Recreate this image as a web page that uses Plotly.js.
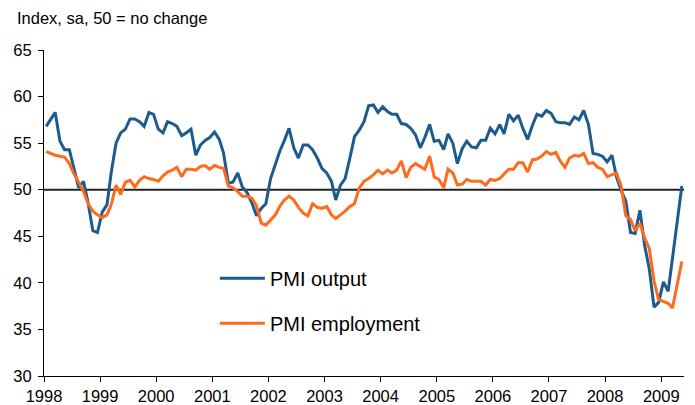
<!DOCTYPE html>
<html>
<head>
<meta charset="utf-8">
<script src="https://cdn.plot.ly/plotly-3.0.1.min.js"></script>
<style>
html,body{margin:0;padding:0;background:#fff;}
#chart{width:695px;height:405px;}
</style>
</head>
<body>
<div id="chart"></div>
<script>
// Monthly data, Jan 1998 .. May 2009
var startYear = 1998;
var startMonth = 1;

var pmiOutput = [
  56.8, 57.6, 58.3, 55.2, 54.3, 54.3, 52.3, 50.2, 50.9, 48.6, 45.6, 45.4,
  47.6, 48.4, 51.9, 55.0, 56.1, 56.5, 57.6, 57.6, 57.3, 56.8, 58.3, 58.1,
  56.5, 56.1, 57.3, 57.1, 56.8, 55.8, 56.1, 56.5, 53.7, 54.8, 55.3, 55.6,
  56.2, 55.4, 53.9, 50.7, 50.8, 51.8, 50.3, 49.7, 48.6, 47.2, 48.0, 48.5,
  51.2, 52.7, 54.1, 55.3, 56.6, 54.5, 53.4, 54.8, 54.8, 54.3, 53.4, 52.3,
  51.8, 50.9, 48.9, 50.5, 51.2, 53.4, 55.7, 56.4, 57.3, 59.0, 59.1, 58.3,
  58.9, 58.4, 58.1, 58.1, 57.1, 57.0, 56.6, 55.9, 54.5, 55.6, 57.0, 55.2,
  55.3, 54.3, 56.0, 55.0, 52.8, 54.4, 55.2, 54.6, 54.5, 55.3, 55.3, 56.6,
  56.0, 57.0, 56.0, 58.1, 57.4, 58.0, 56.6, 55.4, 56.9, 58.1, 57.9, 58.5,
  58.2, 57.3, 57.2, 57.2, 57.0, 57.8, 57.5, 58.5, 57.0, 53.9, 53.8, 53.6,
  53.0, 53.7, 51.4, 49.9, 48.8, 45.4, 45.3, 47.8, 44.0, 41.5, 37.4, 37.9,
  40.1, 39.1, 42.8, 46.6, 50.4
];

var pmiEmployment = [
  54.1, 53.9, 53.7, 53.6, 53.5, 52.8, 51.7, 50.8, 49.8, 48.5, 47.7, 47.3,
  47.0, 47.3, 48.4, 50.5, 49.5, 50.8, 51.0, 50.3, 51.0, 51.4, 51.2, 51.1,
  50.9, 51.5, 51.9, 52.1, 52.4, 51.4, 52.2, 52.2, 52.1, 52.5, 52.6, 52.2,
  52.6, 52.4, 52.3, 50.4, 50.2, 49.8, 49.3, 49.3, 49.1, 48.3, 46.4, 46.2,
  46.7, 47.3, 48.2, 48.9, 49.3, 48.9, 48.1, 47.5, 47.2, 48.5, 48.1, 48.0,
  48.2, 47.3, 46.9, 47.3, 47.7, 48.2, 48.5, 50.2, 50.9, 51.2, 51.6, 52.1,
  51.7, 52.1, 51.8, 52.1, 53.1, 51.3, 52.4, 52.8, 52.5, 52.2, 53.6, 51.4,
  51.1, 50.2, 52.2, 51.8, 50.5, 50.6, 51.1, 50.9, 50.9, 50.9, 50.5, 51.1,
  51.0, 51.2, 51.7, 52.2, 52.2, 52.9, 52.9, 51.9, 53.2, 53.3, 53.6, 54.1,
  53.8, 54.0, 53.1, 52.4, 53.4, 53.7, 53.6, 53.9, 52.8, 52.9, 52.4, 52.2,
  51.4, 51.6, 51.8, 50.4, 47.2, 46.8, 45.6, 46.4, 44.8, 43.7, 40.2, 38.2,
  38.0, 37.8, 37.3, 39.7, 42.3
];

var seriesNames = ['PMI output', 'PMI employment'];
var seriesColors = ['#1d5b8e', '#ff6b1c'];
var yTickVals = [30, 35, 40, 45, 50, 55, 60, 65];
var yearTicks = ['1998','1999','2000','2001','2002','2003','2004','2005','2006','2007','2008','2009'];
var unitLabel = 'Index, sa, 50 = no change';

function pad(n){ return (n < 10 ? '0' : '') + n; }
var dates = [];
for (var i = 0; i < pmiOutput.length; i++) {
  var m = startMonth - 1 + i;
  var y = startYear + Math.floor(m / 12);
  dates.push(y + '-' + pad(m % 12 + 1) + '-15');
}

var font = 'Liberation Sans, Arial, sans-serif';

var traces = [
  {x: dates, y: pmiOutput, type: 'scatter', mode: 'lines', name: seriesNames[0],
   legendgroup: 'a', line: {color: seriesColors[0], width: 3}},
  {x: dates, y: pmiEmployment, type: 'scatter', mode: 'lines', name: seriesNames[1],
   legendgroup: 'b', line: {color: seriesColors[1], width: 3}}
];

var layout = {
  width: 695, height: 405,
  margin: {l: 44, r: 11, t: 50, b: 29, pad: 0},
  paper_bgcolor: '#fff', plot_bgcolor: '#fff',
  font: {family: font, size: 16, color: '#000'},
  showlegend: true,
  legend: {
    x: 0.267, y: 0.36, xanchor: 'left', yanchor: 'top',
    font: {family: font, size: 20, color: '#000'},
    bgcolor: 'rgba(0,0,0,0)', traceorder: 'grouped', tracegroupgap: 16,
    itemwidth: 45
  },
  xaxis: {
    type: 'date',
    range: ['1998-01-01', '2009-05-29'],
    tickvals: yearTicks.map(function(t){ return t + '-01-01'; }),
    ticktext: yearTicks,
    ticks: 'outside', ticklen: 5, tickwidth: 1, tickcolor: '#000',
    showline: true, linecolor: '#000', linewidth: 1,
    showgrid: false, zeroline: false,
    tickfont: {family: font, size: 16.5, color: '#000'},
    fixedrange: true
  },
  yaxis: {
    range: [30, 65],
    tickvals: yTickVals,
    ticks: 'outside', ticklen: 5, tickwidth: 1, tickcolor: '#000',
    showline: true, linecolor: '#000', linewidth: 1,
    showgrid: false, zeroline: false,
    tickfont: {family: font, size: 16.5, color: '#000'},
    ticklabelstandoff: 3,
    fixedrange: true
  },
  shapes: [
    {type: 'line', xref: 'paper', x0: 0, x1: 1, yref: 'y', y0: 50, y1: 50,
     line: {color: '#222', width: 2}, layer: 'below'}
  ],
  annotations: [
    {text: unitLabel, xref: 'paper', yref: 'paper', x: -0.045, y: 1.098,
     xanchor: 'left', yanchor: 'middle', showarrow: false,
     font: {family: font, size: 16.5, color: '#000'}}
  ]
};

Plotly.newPlot('chart', traces, layout, {staticPlot: true, displayModeBar: false});
</script>
</body>
</html>
